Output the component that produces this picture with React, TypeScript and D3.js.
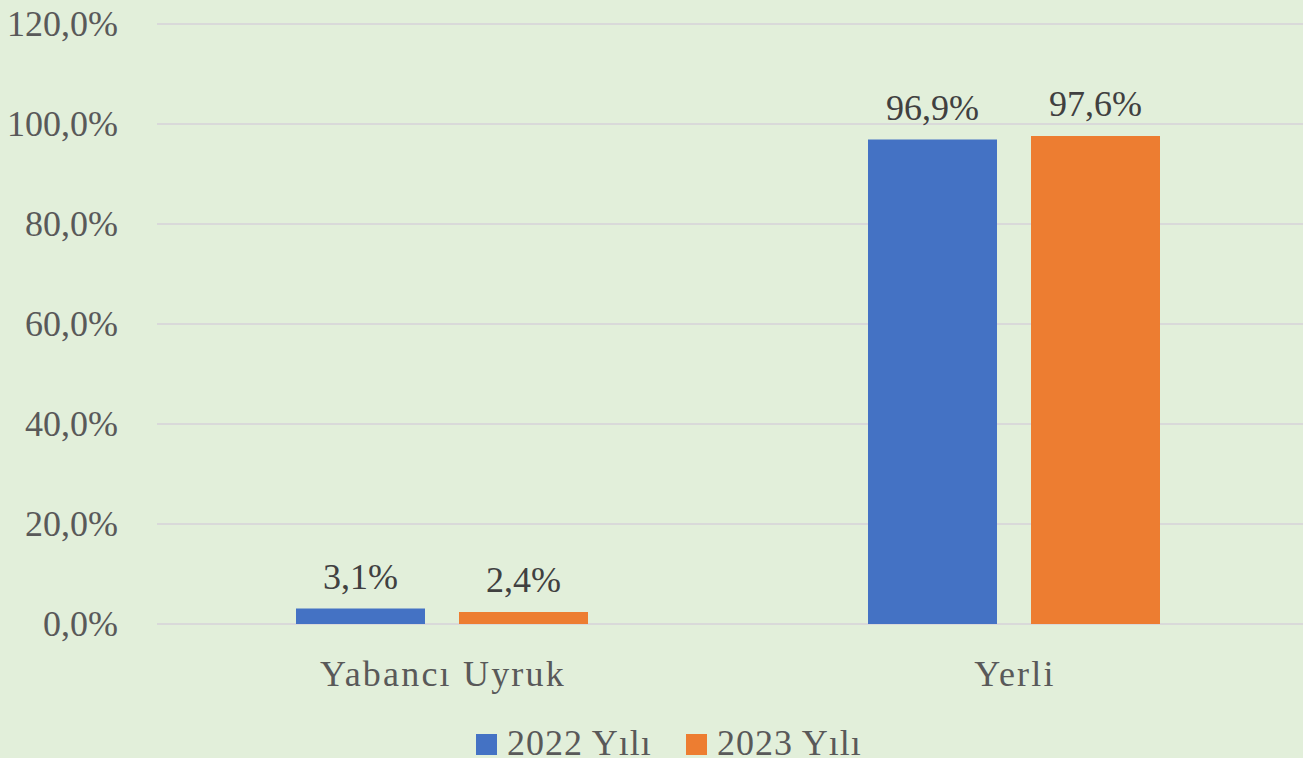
import React from "react";
import * as d3 from "d3";

const categories = ["Yabancı Uyruk", "Yerli"];
const seriesNames = ["2022 Yılı", "2023 Yılı"];
const values2022 = [3.1, 96.9];
const values2023 = [2.4, 97.6];
const yTicks = [0, 20, 40, 60, 80, 100, 120];
const colors = ["#4472C4", "#ED7D31"];

const W = 1303;
const H = 758;
const FONT = "'Palatino Linotype', 'Book Antiqua', Palatino, 'Liberation Serif', serif";

const fmt = (v: number) => v.toFixed(1).replace(".", ",") + "%";

export default function App() {
  const series = [values2022, values2023];
  const x0 = d3.scaleBand<string>().domain(categories).range([156, 1300]).paddingInner(0).paddingOuter(0);
  const bw = 129;
  const gap = 34;
  const y = d3.scaleLinear().domain([0, 120]).range([624, 24]);

  return (
    <svg width={W} height={H} style={{ position: "absolute", left: 0, top: 0, display: "block" }} fontFamily={FONT}>
      <rect x={0} y={0} width={W} height={H} fill="#E2EFDA" />
      {yTicks.map((t) => (
        <g key={t}>
          <line x1={157} x2={1303} y1={y(t)} y2={y(t)} stroke="#D9D9D9" strokeWidth={2} />
          <text x={118} y={y(t) + 12} textAnchor="end" fontSize={36} fill="#595959">
            {fmt(t)}
          </text>
        </g>
      ))}
      {categories.map((c, ci) => {
        const center = (x0(c) as number) + x0.bandwidth() / 2;
        const start = center - (2 * bw + gap) / 2;
        return (
          <g key={c}>
            {series.map((s, si) => {
              const bx = start + si * (bw + gap);
              const v = s[ci];
              return (
                <g key={si}>
                  <rect x={bx} y={y(v)} width={bw} height={y(0) - y(v)} fill={colors[si]} />
                  <text x={bx + bw / 2} y={y(v) - 20} textAnchor="middle" fontSize={36} fill="#404040">
                    {fmt(v)}
                  </text>
                </g>
              );
            })}
            <text x={center + 1} y={686} textAnchor="middle" fontSize={36} fill="#595959" letterSpacing={2.2}>
              {c}
            </text>
          </g>
        );
      })}
      {seriesNames.map((n, i) => {
        const lx = [476, 686][i];
        return (
          <g key={n}>
            <rect x={lx} y={734} width={21} height={21} fill={colors[i]} />
            <text x={lx + 31} y={755} fontSize={36} fill="#595959" letterSpacing={1}>
              {n}
            </text>
          </g>
        );
      })}
    </svg>
  );
}
